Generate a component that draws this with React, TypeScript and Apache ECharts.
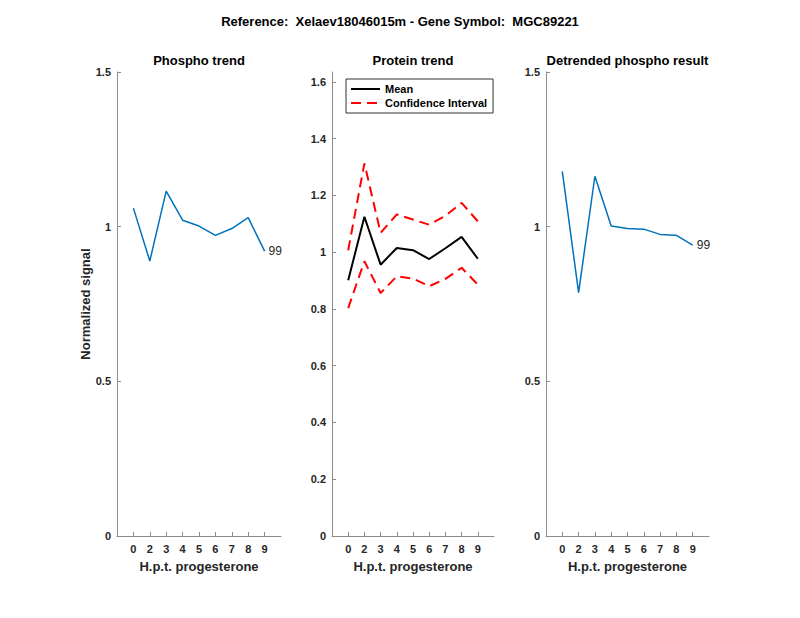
import React, { useEffect, useRef } from "react";
import * as echarts from "echarts";

const categories = ["0", "2", "3", "4", "5", "6", "7", "8", "9"];
const phospho = [1.06, 0.889, 1.115, 1.021, 1.002, 0.972, 0.994, 1.029, 0.921];
const proteinMean = [0.901, 1.125, 0.956, 1.015, 1.007, 0.976, 1.014, 1.054, 0.977];
const proteinUpper = [1.007, 1.313, 1.068, 1.133, 1.115, 1.097, 1.128, 1.174, 1.109];
const proteinLower = [0.803, 0.968, 0.856, 0.915, 0.907, 0.88, 0.906, 0.945, 0.886];
const detrended = [1.179, 0.787, 1.163, 1.002, 0.994, 0.992, 0.975, 0.972, 0.94];
const sideTicks = [0, 0.5, 1, 1.5];
const middleTicks = [0, 0.2, 0.4, 0.6, 0.8, 1, 1.2, 1.4, 1.6];
const peptideLabel = "99";
const mainTitle = "Reference:  Xelaev18046015m - Gene Symbol:  MGC89221";
const panelTitles = ["Phospho trend", "Protein trend", "Detrended phospho result"];
const xName = "H.p.t. progesterone";
const yName = "Normalized signal";

const FONT = "Liberation Sans, Arial, Helvetica, sans-serif";
const TXT = "#262626";
const AX = "#8c8c8c";
const BLUE = "#0072BD";

const xPositions = categories.map((_, i) => i + 1);
const toPairs = (vals: number[]) => vals.map((v, i) => [xPositions[i], v]);

export default function App() {
  const ref = useRef<HTMLDivElement>(null);
  useEffect(() => {
    document.body.style.margin = "0";
    const chart = echarts.init(ref.current!, undefined, { renderer: "svg" });

    const grids = [
      { left: 117, width: 164, top: 72, height: 464 },
      { left: 332, width: 162, top: 72, height: 464 },
      { left: 546, width: 163, top: 72, height: 464 },
    ];

    const xAxes = grids.map((_, gi) => ({
      type: "value",
      gridIndex: gi,
      min: 0,
      max: 10,
      interval: 1,
      name: xName,
      nameLocation: "middle",
      nameGap: 24,
      nameTextStyle: { fontFamily: FONT, fontSize: 13, fontWeight: "bold", color: TXT },
      axisLine: { show: true, lineStyle: { color: AX, width: 1 } },
      axisTick: { show: true, inside: true, length: 4, customValues: xPositions, lineStyle: { color: AX } },
      axisLabel: {
        customValues: xPositions,
        formatter: (v: number) => categories[Math.round(v) - 1] ?? "",
        fontFamily: FONT,
        fontSize: 11,
        fontWeight: "bold",
        color: TXT,
        margin: 7,
      },
      splitLine: { show: false },
    }));

    const yAxes = grids.map((_, gi) => {
      const ticks = gi === 1 ? middleTicks : sideTicks;
      return {
        type: "value",
        gridIndex: gi,
        min: 0,
        max: gi === 1 ? 1.635 : 1.5,
        name: gi === 0 ? yName : "",
        nameLocation: "middle",
        nameGap: 24,
        nameTextStyle: { fontFamily: FONT, fontSize: 13, fontWeight: "bold", color: TXT },
        axisLine: { show: true, lineStyle: { color: AX, width: 1 } },
        axisTick: { show: true, inside: true, length: 4, customValues: ticks, lineStyle: { color: AX } },
        axisLabel: {
          customValues: ticks,
          fontFamily: FONT,
          fontSize: 11,
          fontWeight: "bold",
          color: TXT,
          margin: 6,
        },
        splitLine: { show: false },
      };
    });

    const lastLabel = (vals: number[]) =>
      toPairs(vals).map((p, i) =>
        i === vals.length - 1
          ? {
              value: p,
              symbol: "circle",
              symbolSize: 0.01,
              label: {
                show: true,
                position: "right",
                distance: 4,
                formatter: peptideLabel,
                fontFamily: FONT,
                fontSize: 12,
                color: TXT,
              },
            }
          : { value: p, symbol: "none" }
      );

    const centers = grids.map((g) => g.left + g.width / 2);

    chart.setOption({
      animation: false,
      backgroundColor: "#ffffff",
      title: [
        {
          text: mainTitle,
          left: 400,
          textAlign: "center",
          top: 15,
          padding: 0,
          textStyle: { fontFamily: FONT, fontSize: 13, fontWeight: "bold", color: "#000" },
        },
        ...panelTitles.map((t, i) => ({
          text: t,
          left: centers[i],
          textAlign: "center",
          top: 54,
          padding: 0,
          textStyle: { fontFamily: FONT, fontSize: 13, fontWeight: "bold", color: "#000" },
        })),
      ],
      legend: {
        data: ["Mean", "Confidence Interval"],
        orient: "vertical",
        left: 346,
        top: 79,
        itemWidth: 29,
        itemHeight: 10,
        itemGap: 2,
        padding: [4, 6, 4, 4],
        borderColor: "#333",
        borderWidth: 1,
        backgroundColor: "#fff",
        selectedMode: false,
        itemStyle: { opacity: 0 },
        textStyle: { fontFamily: FONT, fontSize: 11, fontWeight: "bold", color: "#000", lineHeight: 12 },
      },
      grid: grids,
      xAxis: xAxes,
      yAxis: yAxes,
      series: [
        {
          type: "line",
          xAxisIndex: 0,
          yAxisIndex: 0,
          data: lastLabel(phospho),
          showSymbol: true,
          lineStyle: { color: BLUE, width: 1.5 },
          itemStyle: { color: BLUE },
        },
        {
          name: "Mean",
          type: "line",
          xAxisIndex: 1,
          yAxisIndex: 1,
          data: toPairs(proteinMean),
          symbol: "none",
          lineStyle: { color: "#000", width: 2 },
          itemStyle: { color: "#000" },
        },
        {
          name: "Confidence Interval",
          type: "line",
          xAxisIndex: 1,
          yAxisIndex: 1,
          data: toPairs(proteinUpper),
          symbol: "none",
          lineStyle: { color: "#ff0000", width: 2, type: [10, 6] },
          itemStyle: { color: "#ff0000" },
        },
        {
          name: "Confidence Interval",
          type: "line",
          xAxisIndex: 1,
          yAxisIndex: 1,
          data: toPairs(proteinLower),
          symbol: "none",
          lineStyle: { color: "#ff0000", width: 2, type: [10, 6] },
          itemStyle: { color: "#ff0000" },
        },
        {
          type: "line",
          xAxisIndex: 2,
          yAxisIndex: 2,
          data: lastLabel(detrended),
          showSymbol: true,
          lineStyle: { color: BLUE, width: 1.5 },
          itemStyle: { color: BLUE },
        },
      ],
    });
    return () => chart.dispose();
  }, []);
  return <div ref={ref} style={{ width: 800, height: 618 }} />;
}
